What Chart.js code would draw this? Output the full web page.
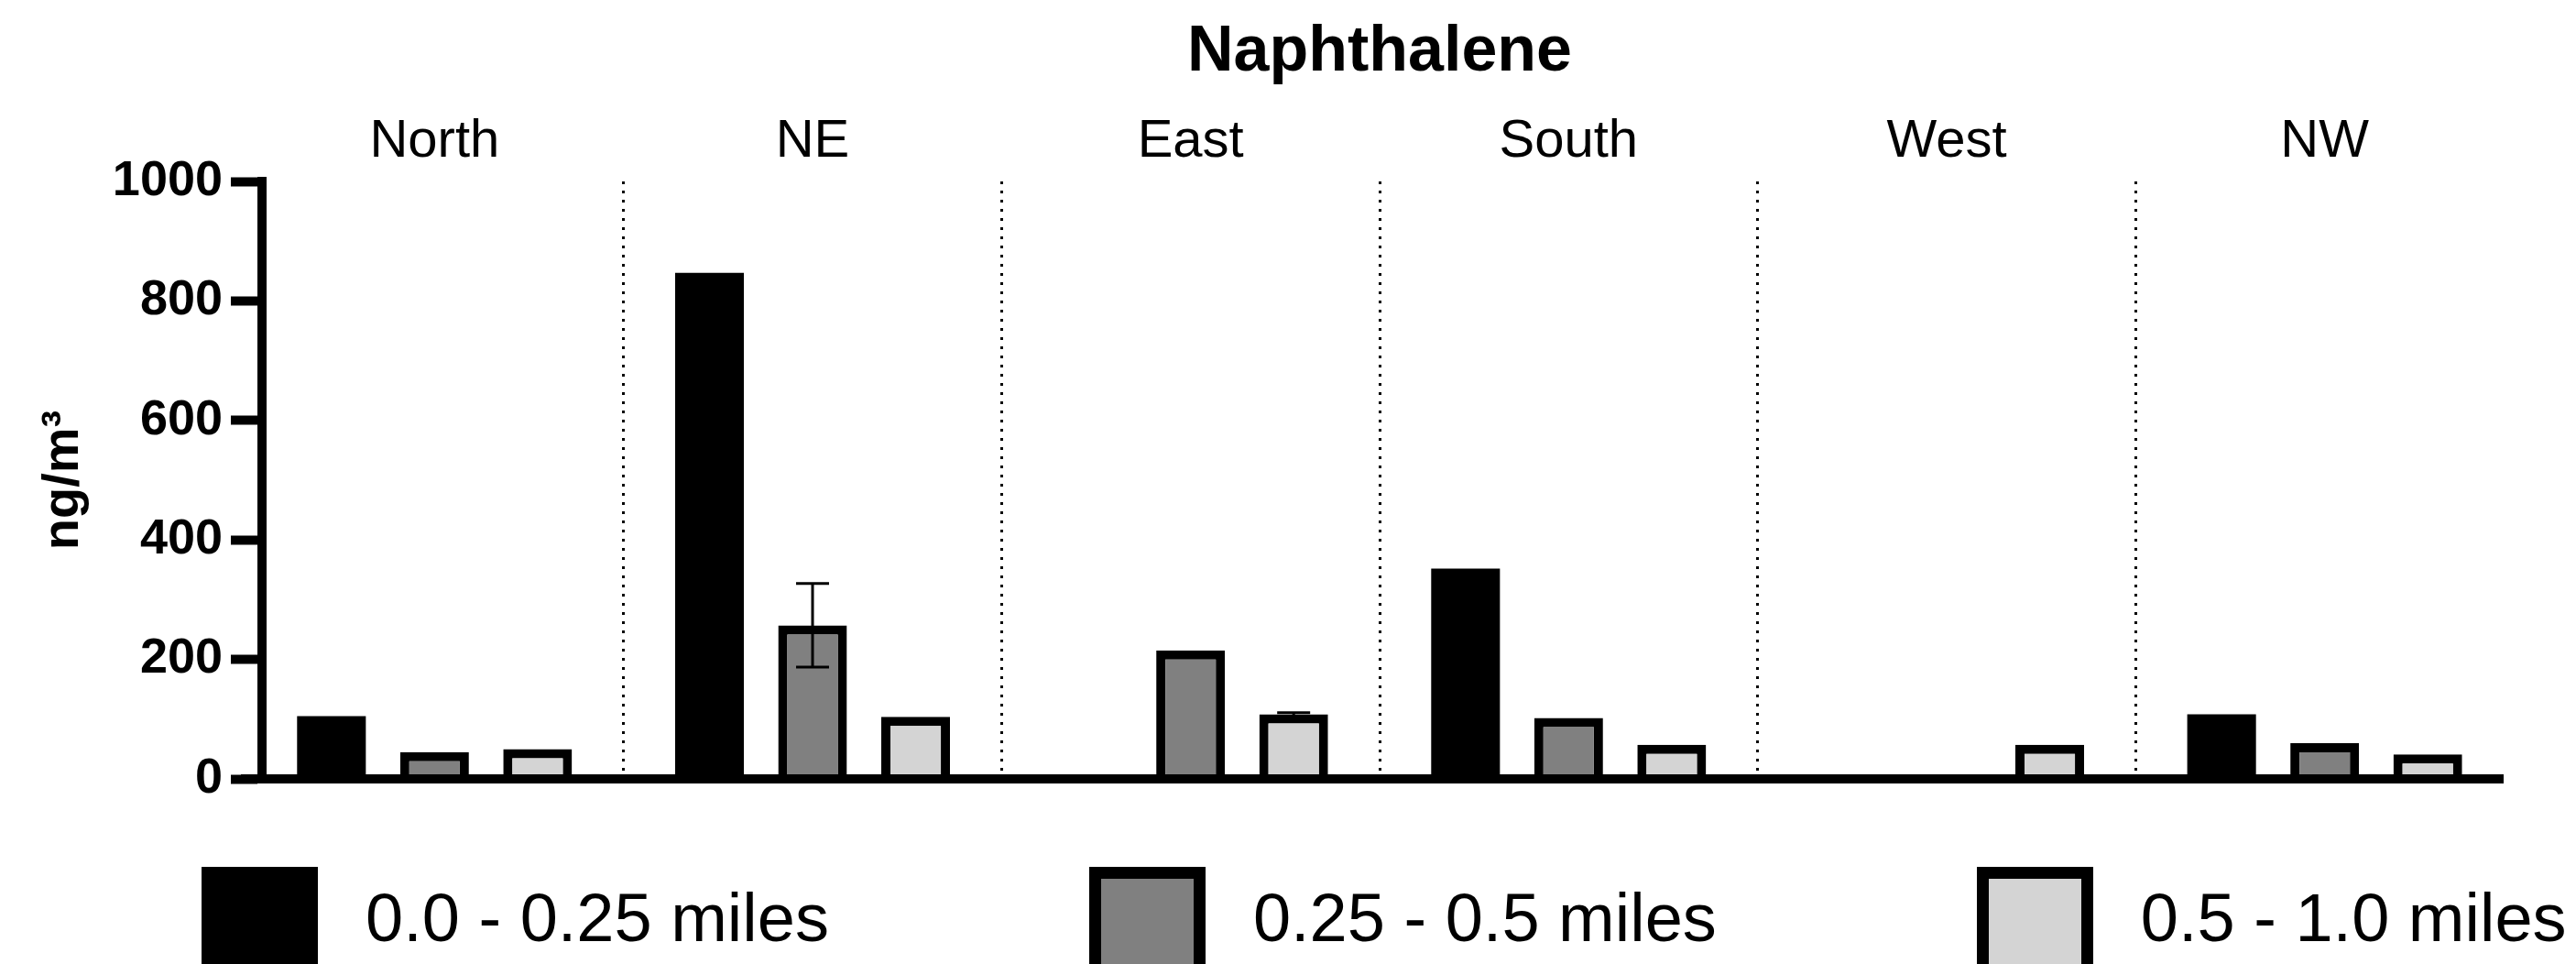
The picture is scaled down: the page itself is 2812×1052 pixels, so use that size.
<!DOCTYPE html>
<html lang="en">
<head>
<meta charset="utf-8">
<title>Naphthalene</title>
<script src="https://cdn.jsdelivr.net/npm/chart.js@4.4.1/dist/chart.umd.min.js"></script>
<style>
  html, body { margin: 0; padding: 0; background: #fff; overflow: hidden; }
  .stage { position: relative; width: 2812px; height: 1052px; overflow: hidden; }
  .stage canvas { position: absolute; left: 0; top: 0; }

  /* legenda di bawah, tiga item dalam satu baris */
  .legend {
    position: absolute; left: 220px; top: 946px;
    display: flex; gap: 284px;
    font-family: 'Liberation Sans', Arial, sans-serif; font-size: 74px; color: #000;
  }
  .legend-item { display: flex; align-items: flex-start; }
  .legend-box  { width: 127px; height: 120px; box-sizing: border-box; border: 13px solid #000; }
  .legend-text { margin-left: 52px; margin-top: 19px; line-height: 74px; white-space: nowrap; }
</style>
</head>
<body>
<div class="stage">
  <canvas id="naphChart" width="2812" height="1052"></canvas>
  <div class="legend" id="naphLegend"></div>
</div>

<script>
'use strict';

/* ── Data (ng/m3) ── */
const CATEGORIES    = ['North', 'NE', 'East', 'South', 'West', 'NW'];
const SERIES_LABELS = ['0.0 - 0.25 miles', '0.25 - 0.5 miles', '0.5 - 1.0 miles'];

const NEAR_VALUES = [105, 847, null, 352, null, 108];
const MID_VALUES  = [45, 257, 215, 102, null, 60];
const FAR_VALUES  = [50, 104, 108, 57, 57, 41];

/* error bar (SD); null = tidak ada */
const NEAR_ERRORS = [null, null, null, null, null, null];
const MID_ERRORS  = [null, 70, null, null, null, null];
const FAR_ERRORS  = [null, null, 3, null, null, null];

const Y_MIN  = 0;
const Y_MAX  = 1000;
const Y_STEP = 200;

/* ── Style ── */
const SERIES_FILLS   = ['#000000', '#808080', '#d4d4d4'];
const SERIES_BORDERS = [0, 10, 10];
const FONT_FAMILY    = "'Liberation Sans', Arial, sans-serif";
const Y_AXIS_SHIFT   = 18;   // garis sumbu Y sedikit ke kanan dari awal kategori
const X_AXIS_TRIM    = 13;   // garis sumbu X berhenti sebelum kategori terakhir
const ERR_CAP_HALF   = 18;

Chart.defaults.font.family = FONT_FAMILY;
Chart.defaults.color       = '#000';

/* Geser sumbu Y & pendekkan sumbu X setelah layout (hanya gambar, bukan skala) */
const axisShift = {
  id: 'axisShift',
  afterLayout(chart) {
    const { x, y } = chart.scales;
    y.left  += Y_AXIS_SHIFT;
    y.right += Y_AXIS_SHIFT;
    x.right -= X_AXIS_TRIM;
  }
};

/* Error bar: garis vertikal + cap, posisi dari skala Y */
const errorBars = {
  id: 'errorBars',
  afterDatasetsDraw(chart) {
    const { ctx, scales: { y } } = chart;
    chart.data.datasets.forEach((ds, i) => {
      const meta = chart.getDatasetMeta(i);
      (ds.errors || []).forEach((err, j) => {
        const v = ds.data[j];
        if (err == null || v == null) return;
        const bx  = meta.data[j].x;
        const top = y.getPixelForValue(v + err);
        const bot = y.getPixelForValue(v - err);
        ctx.save();
        ctx.strokeStyle = '#000';
        ctx.lineWidth   = 3;
        ctx.beginPath();
        ctx.moveTo(bx, top); ctx.lineTo(bx, bot);
        ctx.moveTo(bx - ERR_CAP_HALF, top); ctx.lineTo(bx + ERR_CAP_HALF, top);
        ctx.moveTo(bx - ERR_CAP_HALF, bot); ctx.lineTo(bx + ERR_CAP_HALF, bot);
        ctx.stroke();
        ctx.restore();
      });
    });
  }
};

const SERIES_DATA   = [NEAR_VALUES, MID_VALUES, FAR_VALUES];
const SERIES_ERRORS = [NEAR_ERRORS, MID_ERRORS, FAR_ERRORS];

new Chart(document.getElementById('naphChart'), {
  type: 'bar',
  data: {
    labels: CATEGORIES,
    datasets: SERIES_LABELS.map((label, i) => ({
      label,
      data:            SERIES_DATA[i],
      errors:          SERIES_ERRORS[i],
      backgroundColor: SERIES_FILLS[i],
      borderColor:     '#000',
      borderWidth:     SERIES_BORDERS[i]
    }))
  },
  options: {
    responsive: false,
    animation:  false,
    layout: { padding: { left: 0, right: 68, top: 0, bottom: 202 } },
    datasets: { bar: { categoryPercentage: 0.818, barPercentage: 0.667 } },
    plugins: {
      legend:  { display: false },
      tooltip: { enabled: false },
      title: {
        display:  true,
        text:     'Naphthalene',
        fullSize: false,
        color:    '#000',
        font:     { size: 70, weight: 'bold', lineHeight: 1 },
        padding:  { top: 23, bottom: 0 }
      }
    },
    scales: {
      x: {
        type: 'category',
        position: 'bottom',
        offset: true,
        grid: {
          offset: true,
          drawTicks: false,
          lineWidth: 3,
          // garis putus-putus hanya di antara kategori
          color: c => (c.type === 'tick' && c.index > 0) ? '#000' : 'rgba(0,0,0,0)'
        },
        border: { display: true, color: '#000', width: 10, dash: [3, 7], z: 1 },
        ticks:  { display: false }
      },
      x2: {
        type: 'category',
        position: 'top',
        offset: true,
        grid:   { display: false, drawTicks: false },
        border: { display: false },
        ticks:  { color: '#000', font: { size: 58 }, padding: 8, maxRotation: 0, autoSkip: false },
        afterFit: s => { s.height = 105; }
      },
      y: {
        min: Y_MIN,
        max: Y_MAX,
        position: 'left',
        ticks: {
          stepSize: Y_STEP,
          color:    '#000',
          font:     { size: 54, weight: 'bold' },
          padding:  9,
          callback: v => String(v)
        },
        grid:   { drawOnChartArea: false, tickLength: 34, tickWidth: 10, tickColor: '#000' },
        border: { display: true, color: '#000', width: 10, z: 1 },
        title: {
          display: true,
          text:    'ng/m³',
          color:   '#000',
          font:    { size: 56, weight: 'bold' },
          padding: { top: 18, bottom: 0 }
        },
        afterFit: s => { s.width = 268; }
      }
    }
  },
  plugins: [axisShift, errorBars]
});

/* ── Legenda HTML ── */
function renderLegend(el) {
  SERIES_LABELS.forEach((label, i) => {
    const item = document.createElement('div');
    item.className = 'legend-item';
    item.innerHTML = `
      <span class="legend-box" style="background:${SERIES_FILLS[i]}"></span>
      <span class="legend-text">${label}</span>`;
    el.appendChild(item);
  });
}
renderLegend(document.getElementById('naphLegend'));
</script>
</body>
</html>
